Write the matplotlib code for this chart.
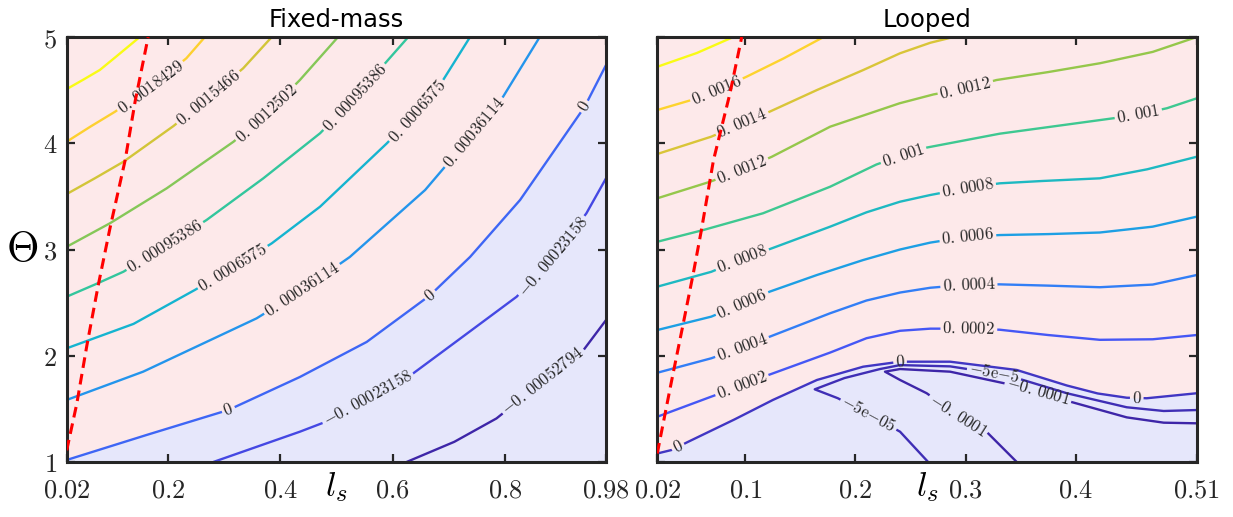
import numpy as np
import matplotlib

matplotlib.use("Agg")
import matplotlib.pyplot as plt
from matplotlib.colors import LinearSegmentedColormap, Normalize
from matplotlib.contour import ContourSet

plt.rcParams["mathtext.fontset"] = "cm"
plt.rcParams["font.family"] = "DejaVu Sans"

PINK = "#fde9ea"
LAVENDER = "#e6e7fb"
INK = "#262626"

# MATLAB parula, sampled at 8 points
parula = LinearSegmentedColormap.from_list("parula", [
    (0.2422, 0.1504, 0.6603), (0.2810, 0.3228, 0.9579), (0.1786, 0.5289, 0.9682),
    (0.0689, 0.6948, 0.8394), (0.2161, 0.7843, 0.5923), (0.6720, 0.7793, 0.2227),
    (0.9970, 0.7659, 0.2199), (0.9769, 0.9839, 0.0805)])

# ---------------- Fixed-mass panel: contour lines ----------------
fm_xticks = [0.02, 0.2, 0.4, 0.6, 0.8, 0.98]

fm_l1_lev, fm_l1_x, fm_l1_y = 0.0021393, [0.02, 0.05, 0.079, 0.109, 0.150], [4.51, 4.60, 4.69, 4.82, 5.0]
fm_l2_lev, fm_l2_x, fm_l2_y = 0.0018429, [0.02, 0.062, 0.106, 0.17, 0.233, 0.266], [4.015, 4.156, 4.297, 4.53, 4.80, 5.0]
fm_l3_lev = 0.0015466
fm_l3_x = [0.02, 0.07, 0.121, 0.21, 0.272, 0.334, 0.385]
fm_l3_y = [3.522, 3.67, 3.826, 4.162, 4.43, 4.705, 5.0]
fm_l4_lev = 0.0012502
fm_l4_x = [0.02, 0.097, 0.198, 0.317, 0.376, 0.435, 0.503]
fm_l4_y = [3.026, 3.247, 3.576, 4.015, 4.28, 4.595, 5.0]
fm_l5_lev = 0.00095386
fm_l5_x = [0.02, 0.07, 0.121, 0.195, 0.269, 0.37, 0.471, 0.533, 0.628]
fm_l5_y = [2.556, 2.67, 2.791, 3.03, 3.278, 3.67, 4.094, 4.43, 5.0]
fm_l6_lev = 0.0006575
fm_l6_x = [0.02, 0.139, 0.248, 0.316, 0.385, 0.471, 0.590, 0.644, 0.690, 0.738]
fm_l6_y = [2.07, 2.30, 2.619, 2.83, 3.058, 3.403, 4.0, 4.30, 4.595, 5.0]
fm_l7_lev = 0.00036114
fm_l7_x = [0.02, 0.156, 0.358, 0.44, 0.524, 0.658, 0.745, 0.797, 0.862]
fm_l7_y = [1.584, 1.85, 2.352, 2.62, 2.93, 3.56, 4.10, 4.44, 5.0]
fm_zero_x = [0.02, 0.162, 0.308, 0.435, 0.554, 0.667, 0.738, 0.827, 0.942, 0.98]
fm_zero_y = [1.019, 1.254, 1.49, 1.80, 2.13, 2.57, 2.93, 3.466, 4.344, 4.736]
fm_n1_lev = -0.00023158
fm_n1_x = [0.281, 0.435, 0.477, 0.556, 0.637, 0.729, 0.821, 0.886, 0.945, 0.98]
fm_n1_y = [1.0, 1.285, 1.37, 1.60, 1.835, 2.195, 2.556, 2.93, 3.34, 3.67]
fm_n2_lev = -0.00052794
fm_n2_x = [0.625, 0.71, 0.785, 0.868, 0.94, 0.98]
fm_n2_y = [1.0, 1.19, 1.41, 1.76, 2.054, 2.336]
fm_red_x = [0.02, 0.038, 0.056, 0.076, 0.097, 0.124, 0.142, 0.165]
fm_red_y = [1.11, 1.55, 2.10, 2.66, 3.20, 3.84, 4.40, 5.0]

# ---------------- Looped panel ----------------
lp_xticks = [0.02, 0.1, 0.2, 0.3, 0.4, 0.51]

lp_l1_x, lp_l1_y = [0.02, 0.056, 0.089], [4.72, 4.85, 5.0]
lp_l2_x = [0.02, 0.051, 0.074, 0.101, 0.135, 0.171]
lp_l2_y = [4.313, 4.407, 4.50, 4.626, 4.80, 5.0]
lp_l3_x = [0.02, 0.069, 0.097, 0.122, 0.165, 0.207, 0.2405, 0.268, 0.289]
lp_l3_y = [3.899, 4.062, 4.186, 4.297, 4.501, 4.689, 4.847, 4.946, 5.0]
lp_l4_x = [0.02, 0.068, 0.097, 0.124, 0.177, 0.240, 0.271, 0.30, 0.328, 0.375, 0.422, 0.47, 0.51]
lp_l4_y = [3.482, 3.638, 3.75, 3.873, 4.156, 4.376, 4.46, 4.515, 4.595, 4.67, 4.753, 4.86, 5.0]
lp_l5_x = [0.02, 0.062, 0.116, 0.177, 0.219, 0.2435, 0.265, 0.331, 0.434, 0.457, 0.483, 0.51]
lp_l5_y = [3.073, 3.184, 3.341, 3.591, 3.80, 3.89, 3.96, 4.09, 4.235, 4.27, 4.33, 4.423]
lp_l6_x = [0.02, 0.069, 0.097, 0.124, 0.177, 0.21, 0.2405, 0.268, 0.302, 0.331, 0.37, 0.422, 0.465, 0.51]
lp_l6_y = [2.65, 2.79, 2.91, 3.011, 3.215, 3.35, 3.45, 3.513, 3.58, 3.623, 3.645, 3.67, 3.755, 3.873]
lp_l7_x = [0.02, 0.069, 0.097, 0.122, 0.165, 0.207, 0.2405, 0.268, 0.302, 0.331, 0.375, 0.422, 0.47, 0.51]
lp_l7_y = [2.242, 2.368, 2.49, 2.603, 2.76, 2.901, 3.0, 3.065, 3.12, 3.136, 3.145, 3.16, 3.215, 3.309]
lp_l8_x = [0.02, 0.069, 0.097, 0.122, 0.177, 0.21, 0.2405, 0.268, 0.303, 0.331, 0.375, 0.422, 0.47, 0.51]
lp_l8_y = [1.84, 1.976, 2.08, 2.179, 2.40, 2.52, 2.595, 2.64, 2.67, 2.672, 2.66, 2.645, 2.67, 2.76]
lp_l9_x = [0.02, 0.069, 0.097, 0.121, 0.177, 0.21, 0.2405, 0.268, 0.303, 0.331, 0.375, 0.422, 0.47, 0.51]
lp_l9_y = [1.426, 1.615, 1.72, 1.819, 2.03, 2.165, 2.235, 2.255, 2.255, 2.245, 2.195, 2.15, 2.155, 2.195]
lp_zero_x = [0.02, 0.033, 0.048, 0.09, 0.125, 0.165, 0.207, 0.2405, 0.286, 0.3465, 0.392, 0.42, 0.4464, 0.4646, 0.51]
lp_zero_y = [1.08, 1.113, 1.19, 1.40, 1.584, 1.772, 1.897, 1.944, 1.944, 1.866, 1.72, 1.645, 1.605, 1.60, 1.647]
lp_n1_x = [0.266, 0.2405, 0.212, 0.184, 0.163, 0.19, 0.2223, 0.2405, 0.286, 0.326, 0.3465, 0.392, 0.4464, 0.48, 0.51]
lp_n1_y = [1.0, 1.285, 1.45, 1.60, 1.684, 1.79, 1.875, 1.912, 1.90, 1.836, 1.79, 1.647, 1.515, 1.48, 1.489]
lp_n2_x = [0.3465, 0.319, 0.293, 0.2647, 0.2405, 0.2268, 0.2405, 0.286, 0.34, 0.366, 0.395, 0.4464, 0.48, 0.51]
lp_n2_y = [1.0, 1.285, 1.44, 1.647, 1.772, 1.85, 1.875, 1.85, 1.73, 1.665, 1.568, 1.42, 1.37, 1.364]
lp_red_x = [0.02, 0.0224, 0.0331, 0.0436, 0.0527, 0.060, 0.071, 0.086, 0.0967]
lp_red_y = [1.08, 1.21, 1.77, 2.305, 2.776, 3.18, 3.84, 4.47, 5.0]

yticks = [1, 2, 3, 4, 5]


def add_level(ax, level, xs, ys, norm, labels=(), text=None):
    seg = np.column_stack([xs, ys])
    cs = ContourSet(ax, [level], [[seg]], cmap=parula, norm=norm,
                    linewidths=1.7, linestyles="solid")
    if labels:
        cs.clabel(fmt=lambda v: text, manual=labels, inline=True,
                  inline_spacing=2, fontsize=12, colors=INK)
    return cs


def style_axes(ax, xlim, xticks, title, ylabels):
    ax.set_xlim(*xlim)
    ax.set_ylim(1, 5)
    ax.set_facecolor(PINK)
    ax.set_xticks(xticks, [f"${t:g}$" for t in xticks])
    ax.set_yticks(yticks, [f"${t}$" for t in yticks] if ylabels else [])
    ax.tick_params(direction="in", top=True, right=True, length=6, width=1.6,
                   colors=INK, labelsize=19)
    ax.tick_params(axis="x", pad=11)
    ax.tick_params(axis="y", pad=7)
    for s in ax.spines.values():
        s.set_linewidth(2.2)
        s.set_color(INK)
    ax.set_title(title, fontsize=17.5, pad=7)
    ax.set_xlabel(r"$l_s$", fontsize=25)
    ax.xaxis.set_label_coords(0.5, -0.02)


fig = plt.figure(figsize=(12.33, 5.17), dpi=100)
ax1 = fig.add_axes([0.0541, 0.1064, 0.4374, 0.822])
ax2 = fig.add_axes([0.5331, 0.1064, 0.4375, 0.822])

# ---- left ----
style_axes(ax1, (0.02, 0.98), fm_xticks, "Fixed-mass", True)
ax1.set_ylabel(r"$\Theta$", rotation=0, fontsize=30, va="center", ha="center")
ax1.yaxis.set_label_coords(-0.083, 0.5)
for t in ax1.get_yticklabels():
    t.set_verticalalignment("center_baseline")
ax1.fill_between(fm_zero_x, 1, fm_zero_y, color=LAVENDER, lw=0, zorder=1)
fm_norm = Normalize(fm_n2_lev, fm_l1_lev)
add_level(ax1, fm_l1_lev, fm_l1_x, fm_l1_y, fm_norm)
add_level(ax1, fm_l2_lev, fm_l2_x, fm_l2_y, fm_norm, [(0.17, 4.53)], r"$0.\,0018429$")
add_level(ax1, fm_l3_lev, fm_l3_x, fm_l3_y, fm_norm, [(0.272, 4.43)], r"$0.\,0015466$")
add_level(ax1, fm_l4_lev, fm_l4_x, fm_l4_y, fm_norm, [(0.376, 4.28)], r"$0.\,0012502$")
add_level(ax1, fm_l5_lev, fm_l5_x, fm_l5_y, fm_norm, [(0.195, 3.03), (0.533, 4.43)], r"$0.\,00095386$")
add_level(ax1, fm_l6_lev, fm_l6_x, fm_l6_y, fm_norm, [(0.316, 2.83), (0.644, 4.30)], r"$0.\,0006575$")
add_level(ax1, fm_l7_lev, fm_l7_x, fm_l7_y, fm_norm, [(0.44, 2.62), (0.745, 4.10)], r"$0.\,00036114$")
add_level(ax1, 0.0, fm_zero_x, fm_zero_y, fm_norm, [(0.308, 1.49), (0.667, 2.57), (0.942, 4.344)], r"$0$")
add_level(ax1, fm_n1_lev, fm_n1_x, fm_n1_y, fm_norm, [(0.556, 1.60), (0.886, 2.93)], r"$-0.\,00023158$")
add_level(ax1, fm_n2_lev, fm_n2_x, fm_n2_y, fm_norm, [(0.868, 1.76)], r"$-0.\,00052794$")
ax1.plot(fm_red_x, fm_red_y, color="red", lw=2.2, ls=(0, (3.5, 2)), zorder=5)

# ---- right ----
style_axes(ax2, (0.02, 0.51), lp_xticks, "Looped", False)
ax2.fill_between(lp_zero_x, 1, lp_zero_y, color=LAVENDER, lw=0, zorder=1)
lp_norm = Normalize(-0.0001, 0.0018)
add_level(ax2, 0.0018, lp_l1_x, lp_l1_y, lp_norm)
add_level(ax2, 0.0016, lp_l2_x, lp_l2_y, lp_norm, [(0.074, 4.50)], r"$0.\,0016$")
add_level(ax2, 0.0014, lp_l3_x, lp_l3_y, lp_norm, [(0.097, 4.186)], r"$0.\,0014$")
add_level(ax2, 0.0012, lp_l4_x, lp_l4_y, lp_norm, [(0.097, 3.75), (0.30, 4.515)], r"$0.\,0012$")
add_level(ax2, 0.001, lp_l5_x, lp_l5_y, lp_norm, [(0.2435, 3.89), (0.457, 4.27)], r"$0.\,001$")
add_level(ax2, 0.0008, lp_l6_x, lp_l6_y, lp_norm, [(0.097, 2.91), (0.302, 3.58)], r"$0.\,0008$")
add_level(ax2, 0.0006, lp_l7_x, lp_l7_y, lp_norm, [(0.097, 2.49), (0.302, 3.12)], r"$0.\,0006$")
add_level(ax2, 0.0004, lp_l8_x, lp_l8_y, lp_norm, [(0.097, 2.08), (0.303, 2.67)], r"$0.\,0004$")
add_level(ax2, 0.0002, lp_l9_x, lp_l9_y, lp_norm, [(0.097, 1.72), (0.303, 2.255)], r"$0.\,0002$")
add_level(ax2, 0.0, lp_zero_x, lp_zero_y, lp_norm, [(0.0388, 1.143), (0.2405, 1.944), (0.4555, 1.60)], r"$0$")
cs = add_level(ax2, -5e-5, lp_n1_x, lp_n1_y, lp_norm, [(0.212, 1.45)], r"$-5\mathrm{e}{-}05$")
cs.clabel(fmt=lambda v: r"$-5\mathrm{e}{-}5$", manual=[(0.326, 1.836)], inline=True,
          inline_spacing=2, fontsize=12, colors=INK)
add_level(ax2, -1e-4, lp_n2_x, lp_n2_y, lp_norm, [(0.293, 1.44), (0.366, 1.665)], r"$-0.\,0001$")
ax2.plot(lp_red_x, lp_red_y, color="red", lw=2.2, ls=(0, (3.5, 2)), zorder=5)

fig.savefig("out.png", dpi=100)
